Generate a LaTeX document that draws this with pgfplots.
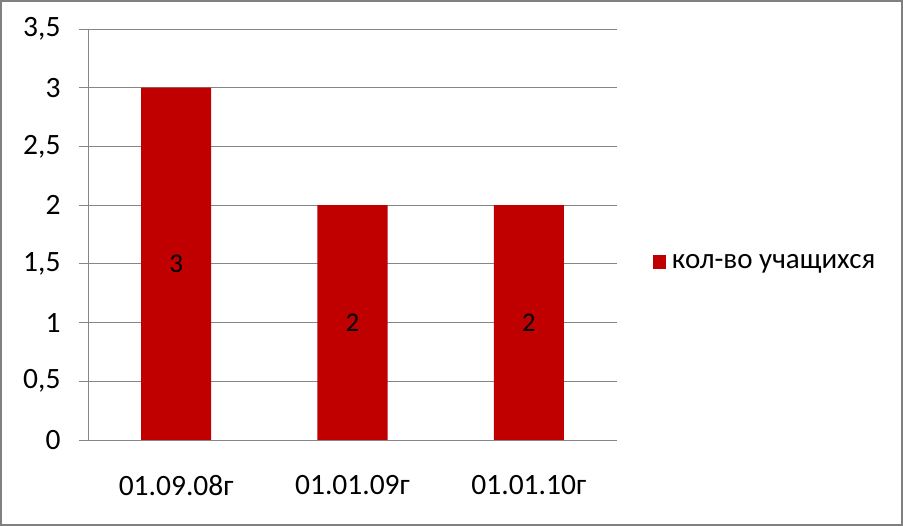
\documentclass[border=0pt]{standalone}
\usepackage{fontspec}
\setmainfont{Carlito}
\usepackage{pgfplots}
\usepackage{pgfplotstable}
\pgfplotsset{compat=1.18}
\definecolor{barred}{HTML}{C00000}
\definecolor{axgray}{HTML}{868686}
\definecolor{frame}{HTML}{808080}
\pgfplotstableread{
x v
0 3
1 2
2 2
}\data
\begin{document}
\begin{tikzpicture}
\path[use as bounding box] (0,0) rectangle (903pt,526pt);
\fill[white] (0,0) rectangle (903pt,526pt);
\draw[frame, line width=2pt] (1pt,1pt) rectangle (902pt,525pt);
\begin{axis}[
  at={(88pt,86pt)}, anchor=south west,
  scale only axis, width=529pt, height=411pt,
  xmin=-0.5, xmax=2.5, ymin=0, ymax=3.5,
  axis lines=left, axis line style={-, axgray, line width=0.9pt},
  ytick={0,0.5,...,3.5},
  ymajorgrids, major grid style={axgray, line width=0.9pt},
  tick align=outside, major tick length=9pt,
  tick style={axgray, line width=0.9pt},
  xtick={0,1,2},
  xticklabels={01.09.08г,01.01.09г,01.01.10г},
  major x tick style={draw=none},
  extra x ticks={-0.5,0.5,1.5,2.5},
  extra x tick labels={},
  extra x tick style={grid=none, major tick length=9pt, tick style={axgray, line width=0.9pt}},
  /pgf/number format/assume math mode=true,
  /pgf/number format/use comma,
  ticklabel style={font=\fontsize{29.5}{33}\selectfont, text=black},
  yticklabel style={xshift=-15pt},
  xticklabel style={yshift=-23pt},
  legend style={at={(axis description cs:1.062,0.433)}, anchor=west, draw=none, fill=none,
    font=\fontsize{29}{33}\selectfont, legend cell align=left,
    nodes={inner xsep=6pt}},
  legend image code/.code={\fill[barred] (0pt,-7pt) rectangle (13pt,7pt);},
  clip=false,
]
\addplot[ybar, fill=barred, draw=none, bar width=70pt] table[x=x, y=v] {\data};
\addlegendentry{кол-во учащихся}
\addplot[forget plot, draw=none, mark=none, nodes near coords, point meta=explicit,
  nodes near coords align={center},
  every node near coord/.append style={font=\fontsize{27}{30}\selectfont, text=black, anchor=center}]
  table[x=x, y expr=\thisrow{v}/2, meta=v] {\data};
\end{axis}
\end{tikzpicture}
\end{document}
